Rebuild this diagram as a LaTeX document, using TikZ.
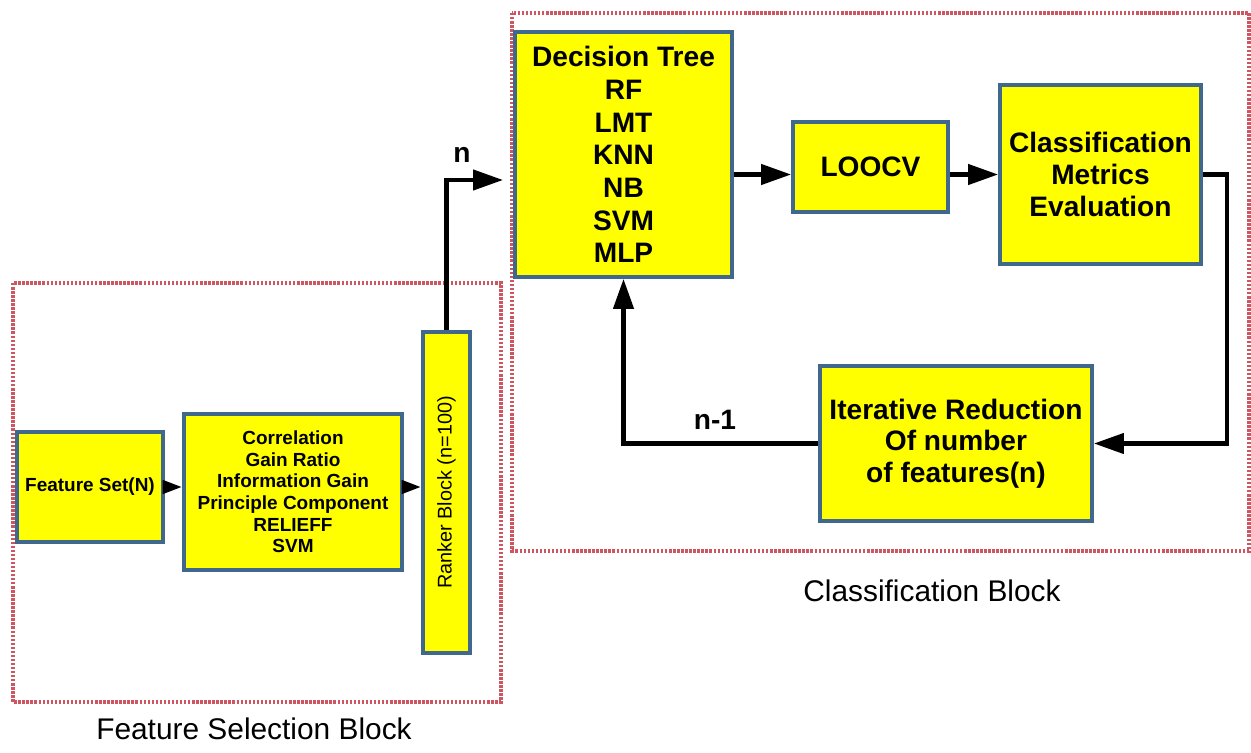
\documentclass[tikz,border=0pt]{standalone}
\usepackage{fontspec}
\setmainfont{Liberation Sans}
\usepackage{graphicx}
\usepackage{tikz}
\usetikzlibrary{arrows.meta}
\usepackage{xcolor}
\definecolor{boxfill}{RGB}{255,255,0}
\definecolor{boxline}{RGB}{64,104,140}
\definecolor{regionline}{RGB}{206,86,96}
\newcommand{\pxu}{0.02cm}

\begin{document}
\begin{tikzpicture}
    [   x = \pxu
    ,   y = -\pxu
    ,   > = {Triangle[length=17pt,width=11.4pt]}
    ,   block/.style =
        {   draw = boxline
        ,   fill = boxfill
        ,   line width = 2.2pt
        ,   inner sep = 0mm
        ,   align = center
        ,   font = \bfseries\fontsize{16}{18.6}\selectfont
        }
    ,   smallblock/.style =
        {   block
        ,   font = \bfseries\fontsize{10.8}{12.3}\selectfont
        }
    ,   region/.style =
        {   draw = regionline
        ,   line width = 1.8pt
        ,   dash pattern = on 1.4pt off 0.9pt
        }
    ,   flow/.style = {->, line width = 2.3pt}
    ,   shortflow/.style = {flow, > = {Triangle[length=11pt,width=7.4pt]}}
    ,   caption/.style = {font = \fontsize{17}{20}\selectfont}
    ,   count/.style = {font = \bfseries\fontsize{16}{18}\selectfont}
    ]
    \useasboundingbox (0,0) rectangle (1251,753);

    \draw[region] (13,283) rectangle (501,702);
    \draw[region] (512,13) rectangle (1249,551);
    \node[caption] (fsbcap) at (254,729) {Feature Selection Block};
    \node[caption] (cbcap) at (932,591) {Classification Block};

    \node[smallblock, minimum width=146*\pxu, minimum height=110*\pxu] (fset) at (90,487) {Feature Set(N)};
    \node[smallblock, minimum width=218*\pxu, minimum height=156*\pxu] (meth) at (293,492)
        {Correlation\\Gain Ratio\\Information Gain\\Principle Component\\RELIEFF\\SVM};
    \node[block, minimum width=47*\pxu, minimum height=321*\pxu, font=\mdseries\fontsize{11.3}{13}\selectfont] (rank) at (446.5,492.5)
        {\rotatebox{90}{Ranker Block (n=100)}};
    \node[block, minimum width=217*\pxu, minimum height=245*\pxu] (clf) at (623.5,154.5)
        {Decision Tree\\RF\\LMT\\KNN\\NB\\SVM\\MLP};
    \node[block, minimum width=155*\pxu, minimum height=90*\pxu] (loocv) at (870.5,167) {LOOCV};
    \node[block, minimum width=201*\pxu, minimum height=179*\pxu, font=\bfseries\fontsize{16}{18}\selectfont] (met) at (1100.5,174.5)
        {Classification\\Metrics\\Evaluation};
    \node[block, minimum width=272*\pxu, minimum height=155*\pxu, font=\bfseries\fontsize{16}{18}\selectfont] (iter) at (956,443.5)
        {Iterative Reduction\\Of number\\of features(n)};

    \coordinate (nin) at (503,180);
    \draw[shortflow] (fset.east) -- (meth.west |- fset.east);
    \draw[shortflow] (meth.east |- fset.east) -- (rank.west |- fset.east);
    \draw[flow] (rank.north) |- (nin);
    \node[count] (nlab) at (462,155) {n};
    \foreach\a/\b in {clf/loocv,loocv/met}
    {   \draw[flow] (\a.east |- met.west) -- (\b.west |- met.west);
    }
    \draw[flow] (met.east) -- ++(24,0) |- (iter.east);
    \draw[flow] (iter.west) -| (clf.south);
    \node[count] (n1lab) at (715,420) {n-1};

\end{tikzpicture}
\end{document}
